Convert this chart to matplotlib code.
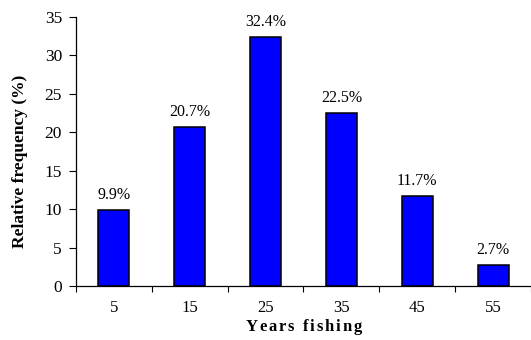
import matplotlib
matplotlib.use("Agg")
import matplotlib.pyplot as plt
import numpy as np

categories = ["5", "15", "25", "35", "45", "55"]
frequency = [9.9, 20.7, 32.4, 22.5, 11.7, 2.7]
y_ticks = [0, 5, 10, 15, 20, 25, 30, 35]

plt.rcParams["font.family"] = ["Liberation Serif", "DejaVu Serif"]

fig = plt.figure(figsize=(5.31, 3.40), dpi=100)
ax = fig.add_axes([0.143, 0.159, 0.857, 0.791])

x = np.arange(len(categories))
ax.bar(x, frequency, width=0.41, color="#0000ff", edgecolor="black", linewidth=1.1, zorder=2)

for xi, v in zip(x, frequency):
    ax.annotate(f"{v}%", (xi, v), xytext=(0, 5), textcoords="offset points",
                ha="center", va="bottom", fontsize=11.5)

ax.set_xlim(-0.5, len(categories) - 0.5)
ax.set_ylim(0, 35)
ax.set_yticks(y_ticks)
ax.tick_params(axis="y", labelsize=12.5, direction="out", length=5, width=0.8, pad=5)

# category labels sit between boundary ticks
ax.set_xticks(x)
ax.set_xticklabels(categories, fontsize=12)
ax.tick_params(axis="x", which="major", length=0, pad=10)
ax.set_xticks(np.arange(len(categories) + 1) - 0.5, minor=True)
ax.tick_params(axis="x", which="minor", direction="out", length=4, width=0.8)

for side in ("top", "right"):
    ax.spines[side].set_visible(False)
for side in ("left", "bottom"):
    ax.spines[side].set_linewidth(0.9)

ax.set_ylabel("Relative frequency (%)", fontsize=12.5, fontweight="bold")
ax.yaxis.set_label_coords(-0.105, 0.465)

# letter-spaced axis title, centred under the plot
fig.canvas.draw()
renderer = fig.canvas.get_renderer()
title = "Years fishing"
target_width = 116.0
widths = []
for ch in title:
    t = fig.text(0, 0, ch if ch != " " else "n", fontsize=12, fontweight="bold")
    w = t.get_window_extent(renderer).width
    if ch == " ":
        w *= 0.5
    widths.append(w)
    t.remove()
tracking = max(0.0, (target_width - sum(widths)) / (len(title) - 1))
cx = ax.transData.transform((2.5, 0))[0]
xpos = cx - (sum(widths) + tracking * (len(title) - 1)) / 2
for ch, w in zip(title, widths):
    if ch != " ":
        fig.text(xpos / fig.bbox.width, 1 - 327 / 340, ch, fontsize=12, fontweight="bold",
                 ha="left", va="center")
    xpos += w + tracking

fig.savefig("out.png", dpi=100)
